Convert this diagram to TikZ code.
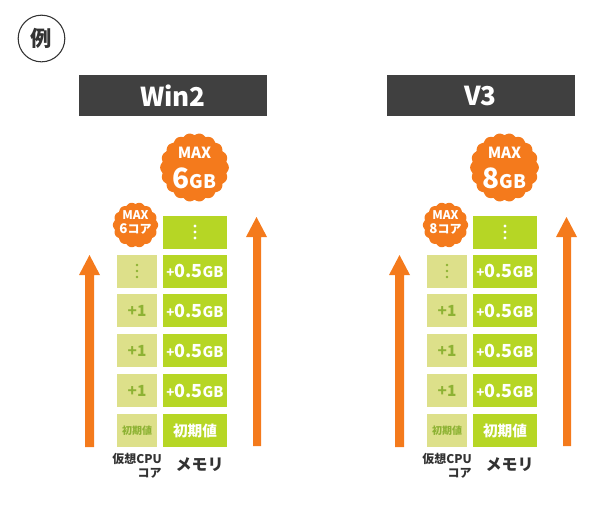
\documentclass[tikz,border=0pt]{standalone}
\usepackage{fontspec}
\setmainfont{Noto Sans CJK JP}
\definecolor{orng}{HTML}{F47A1C}
\definecolor{memgreen}{HTML}{B6D625}
\definecolor{cpugreen}{HTML}{DDE08A}
\definecolor{cputext}{HTML}{8DB233}
\definecolor{hdr}{HTML}{404040}
\definecolor{lbl}{HTML}{333333}
\begin{document}
\begin{tikzpicture}[x=0.75pt,y=-0.75pt,
  membox/.style={fill=memgreen, minimum width=48pt, minimum height=24.75pt, inner sep=0pt, text=white, font=\bfseries},
  cpubox/.style={fill=cpugreen, minimum width=30pt, minimum height=24.75pt, inner sep=0pt, text=cputext, font=\bfseries},
  hdrbox/.style={fill=hdr, minimum width=141pt, minimum height=30.75pt, inner sep=0pt, text=white, font=\bfseries\fontsize{19.5}{19.5}\selectfont},
  badgetxt/.style={text=white, inner sep=0pt, font=\bfseries},
  undertxt/.style={text=lbl, inner sep=0pt, font=\bfseries},
  arr/.style={fill=orng}]
\useasboundingbox (0,0) rectangle (609,515);
% example mark
\node[circle, draw=lbl, line width=0.8pt, minimum size=35pt, inner sep=0pt, font=\bfseries\fontsize{16}{16}\selectfont, text=lbl] (rei) at (41.5,38.5) {例};
\foreach \dx/\hx/\nm/\num/\p in {0/0/Win2/6/a, 310/-2.5/V3/8/b}{
\begin{scope}[xshift=\dx*0.75pt]
  \node[hdrbox] (hdr\p) at (173+\hx,95.5) {\nm};
  % arrows
  \fill[arr] (85,447) -- (94,447) -- (94,275) -- (100,275) -- (89.5,255) -- (79,275) -- (85,275) -- cycle;
  \fill[arr] (253,446) -- (261,446) -- (261,237) -- (267,237) -- (256.5,217) -- (246,237) -- (253,237) -- cycle;
  % memory column
  \node[membox] (mem1\p) at (195,232) {};
  \foreach \k in {-6,0,6} \fill[white] ([yshift=\k*0.75pt]mem1\p.center) circle (1.2pt);
  \foreach \i/\y in {2/271,3/310.5,4/350.5,5/390.5}{
    \node[membox] (mem\i\p) at (195,\y) {{\fontsize{10}{10}\selectfont +}{\fontsize{13.5}{13.5}\selectfont 0.5}{\fontsize{11}{11}\selectfont GB}};
  }
  \node[membox, font=\bfseries\fontsize{11}{11}\selectfont] (mem6\p) at (195,430.5) {初期値};
  % cpu column
  \node[cpubox] (cpu2\p) at (137,271) {};
  \foreach \k in {-6,0,6} \fill[cputext] ([yshift=\k*0.75pt]cpu2\p.center) circle (1.1pt);
  \foreach \i/\y in {3/310.5,4/350.5,5/390.5}{
    \node[cpubox, font=\bfseries\fontsize{11.5}{11.5}\selectfont] (cpu\i\p) at (137,\y) {+1};
  }
  \node[cpubox, font=\bfseries\fontsize{7.5}{7.5}\selectfont] (cpu6\p) at (137,430.5) {初期値};
  % big badge
  \fill[orng, shift={(194.5,167.5)}] plot[domain=0:359.5, samples=360] (\x:{32.3+2*abs(cos(9*\x))}) -- cycle;
  \node[badgetxt, font=\bfseries\fontsize{11.5}{11.5}\selectfont] (bmax\p) at (194.5,153) {MAX};
  \node[badgetxt, anchor=base] (bgb\p) at (194.5,188) {{\fontsize{21}{21}\selectfont\num}{\fontsize{14}{14}\selectfont GB}};
  % small badge
  \fill[orng, shift={(135.5,225)}] plot[domain=0:359.5, samples=360] (\x:{21+1.6*abs(cos(7*\x))}) -- cycle;
  \node[badgetxt, font=\bfseries\fontsize{9}{9}\selectfont] (smax\p) at (135.5,215.5) {MAX};
  \node[badgetxt, anchor=base] (score\p) at (135.5,233) {{\fontsize{10}{10}\selectfont\num}{\fontsize{9}{9}\selectfont コア}};
  % labels
  \node[undertxt, anchor=base east, font=\bfseries\fontsize{9}{9}\selectfont] (lcpu\p) at (162,463) {仮想CPU};
  \node[undertxt, anchor=base east, font=\bfseries\fontsize{9}{9}\selectfont] (lcore\p) at (162,477) {コア};
  \node[undertxt, font=\bfseries\fontsize{12}{12}\selectfont] (lmem\p) at (199.5,465) {メモリ};
\end{scope}
}
\end{tikzpicture}
\end{document}
